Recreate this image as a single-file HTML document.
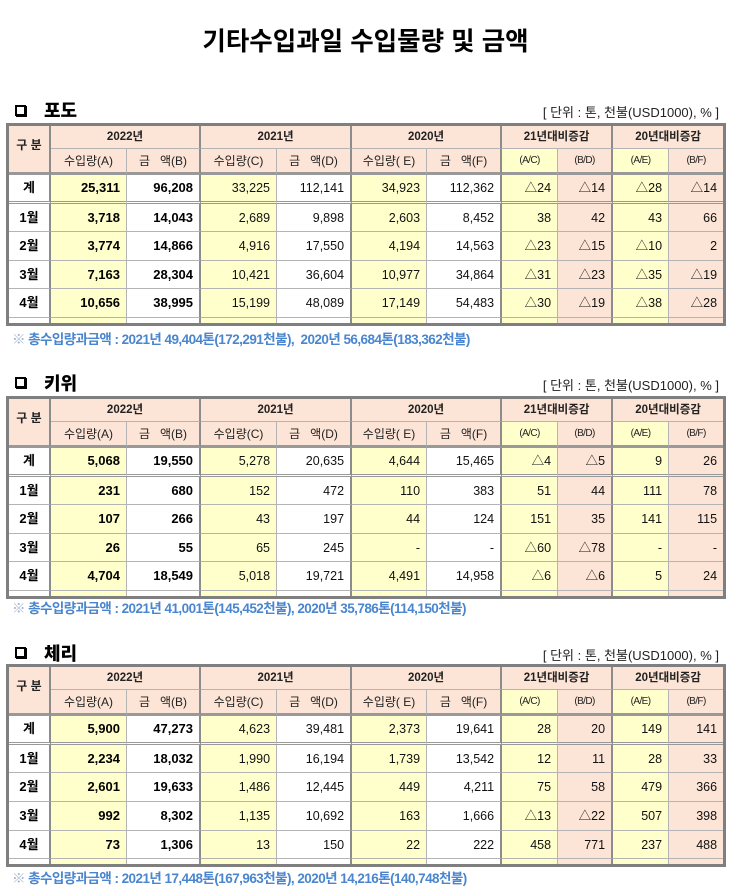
<!DOCTYPE html>
<html lang="ko">
<head>
<meta charset="utf-8">
<style>
*{box-sizing:border-box}
body{margin:0;width:739px;height:896px;position:relative;background:#fff;font-family:"Liberation Sans","Noto Sans CJK KR",sans-serif;overflow:hidden;color:#111}
.title{position:absolute;left:-4px;width:739px;top:25px;text-align:center;font-family:"Liberation Sans","Noto Sans CJK KR",sans-serif;font-size:25.5px;font-weight:bold;line-height:34px;color:#000}
.box{position:absolute;left:15px;width:11px;height:11px;border:2px solid #000;box-shadow:1px 1px 0 #000;background:#fff}
.sname{position:absolute;left:44px;font-family:"Noto Sans CJK KR",sans-serif;font-size:18px;font-weight:900;line-height:20px;color:#000}
.unit{position:absolute;right:20px;font-family:"Liberation Sans","Noto Sans CJK KR",sans-serif;font-size:13px;line-height:16px;color:#222}
.note{position:absolute;left:12px;font-family:"Liberation Sans","Noto Sans CJK KR",sans-serif;font-size:13.5px;font-weight:bold;letter-spacing:-0.55px;line-height:16px;color:#4a86cf;white-space:nowrap}
.note span{color:#9ab0c8;font-weight:normal}
table{position:absolute;left:6px;width:720px;table-layout:fixed;border-collapse:separate;border-spacing:0;border:3px solid #7f7f7f}
td{padding:0 6px 0 0;border-right:1px solid #b4b4b4;border-bottom:1px solid #b4b4b4;text-align:right;font-size:12.5px;white-space:nowrap;overflow:hidden;vertical-align:middle;line-height:14px}
td.g{border-right:2px solid #8c8c8c}
td.l{border-right:none}
.h td{background:#fce4d6;text-align:center;padding:0;font-weight:bold;font-size:11.5px;color:#222}
.h2 td{border-bottom:3px solid #999;font-weight:normal;font-size:12px}
.h2 td.s{font-size:10px;letter-spacing:-0.6px}
.h td.y{background:#ffffcc}
td.gb{border-bottom:3px solid #999;font-size:12px;padding-bottom:8px}
tr.h1{height:23px}
tr.h2{height:26px}
tr.k{height:29px}
tr.k td{border-bottom:3px double #999}
tr.e{height:5px}
tr.e td{border-bottom:none;font-size:0;line-height:0;padding:0}
.y{background:#ffffcc}
.p{background:#fce4d6}
.w{background:#fff}
td.b{font-weight:bold;font-size:13px;color:#000}
td.lab{text-align:center;padding:0;font-weight:bold;font-size:13px;background:#fff;color:#000}
</style>
</head>
<body>
<div class="title">기타수입과일 수입물량 및 금액</div>

<!-- 포도 -->
<div class="box" style="top:105px"></div>
<div class="sname" style="top:100px">포도</div>
<div class="unit" style="top:105px">[ 단위 : 톤, 천불(USD1000), % ]</div>
<table style="top:123px">
<colgroup><col style="width:42px"><col style="width:76px"><col style="width:74px"><col style="width:76px"><col style="width:75px"><col style="width:75px"><col style="width:75px"><col style="width:56px"><col style="width:55px"><col style="width:56px"><col style="width:54px"></colgroup>
<tr class="h h1"><td rowspan="2" class="g gb">구 분</td><td colspan="2" class="g">2022년</td><td colspan="2" class="g">2021년</td><td colspan="2" class="g">2020년</td><td colspan="2" class="g">21년대비증감</td><td colspan="2" class="l">20년대비증감</td></tr>
<tr class="h h2"><td>수입량(A)</td><td class="g">금&nbsp;&nbsp;&nbsp;액(B)</td><td>수입량(C)</td><td class="g">금&nbsp;&nbsp;&nbsp;액(D)</td><td>수입량( E)</td><td class="g">금&nbsp;&nbsp;&nbsp;액(F)</td><td class="s y">(A/C)</td><td class="s g">(B/D)</td><td class="s y">(A/E)</td><td class="s l">(B/F)</td></tr>
<tr class="k"><td class="lab g">계</td><td class="y b">25,311</td><td class="w b g">96,208</td><td class="y">33,225</td><td class="w g">112,141</td><td class="y">34,923</td><td class="w g">112,362</td><td class="y">△24</td><td class="p g">△14</td><td class="y">△28</td><td class="p l">△14</td></tr>
<tr style="height:28px"><td class="lab g">1월</td><td class="y b">3,718</td><td class="w b g">14,043</td><td class="y">2,689</td><td class="w g">9,898</td><td class="y">2,603</td><td class="w g">8,452</td><td class="y">38</td><td class="p g">42</td><td class="y">43</td><td class="p l">66</td></tr>
<tr style="height:29px"><td class="lab g">2월</td><td class="y b">3,774</td><td class="w b g">14,866</td><td class="y">4,916</td><td class="w g">17,550</td><td class="y">4,194</td><td class="w g">14,563</td><td class="y">△23</td><td class="p g">△15</td><td class="y">△10</td><td class="p l">2</td></tr>
<tr style="height:28px"><td class="lab g">3월</td><td class="y b">7,163</td><td class="w b g">28,304</td><td class="y">10,421</td><td class="w g">36,604</td><td class="y">10,977</td><td class="w g">34,864</td><td class="y">△31</td><td class="p g">△23</td><td class="y">△35</td><td class="p l">△19</td></tr>
<tr style="height:29px"><td class="lab g">4월</td><td class="y b">10,656</td><td class="w b g">38,995</td><td class="y">15,199</td><td class="w g">48,089</td><td class="y">17,149</td><td class="w g">54,483</td><td class="y">△30</td><td class="p g">△19</td><td class="y">△38</td><td class="p l">△28</td></tr>
<tr class="e"><td class="lab g"></td><td class="y"></td><td class="w g"></td><td class="y"></td><td class="w g"></td><td class="y"></td><td class="w g"></td><td class="y"></td><td class="p g"></td><td class="y"></td><td class="p l"></td></tr>
</table>
<div class="note" style="top:332px"><span>※</span> 총수입량과금액 : 2021년 49,404톤(172,291천불),&nbsp; 2020년 56,684톤(183,362천불)</div>

<!-- 키위 -->
<div class="box" style="top:377px"></div>
<div class="sname" style="top:373px">키위</div>
<div class="unit" style="top:378px">[ 단위 : 톤, 천불(USD1000), % ]</div>
<table style="top:396px">
<colgroup><col style="width:42px"><col style="width:76px"><col style="width:74px"><col style="width:76px"><col style="width:75px"><col style="width:75px"><col style="width:75px"><col style="width:56px"><col style="width:55px"><col style="width:56px"><col style="width:54px"></colgroup>
<tr class="h h1"><td rowspan="2" class="g gb">구 분</td><td colspan="2" class="g">2022년</td><td colspan="2" class="g">2021년</td><td colspan="2" class="g">2020년</td><td colspan="2" class="g">21년대비증감</td><td colspan="2" class="l">20년대비증감</td></tr>
<tr class="h h2"><td>수입량(A)</td><td class="g">금&nbsp;&nbsp;&nbsp;액(B)</td><td>수입량(C)</td><td class="g">금&nbsp;&nbsp;&nbsp;액(D)</td><td>수입량( E)</td><td class="g">금&nbsp;&nbsp;&nbsp;액(F)</td><td class="s y">(A/C)</td><td class="s g">(B/D)</td><td class="s y">(A/E)</td><td class="s l">(B/F)</td></tr>
<tr class="k"><td class="lab g">계</td><td class="y b">5,068</td><td class="w b g">19,550</td><td class="y">5,278</td><td class="w g">20,635</td><td class="y">4,644</td><td class="w g">15,465</td><td class="y">△4</td><td class="p g">△5</td><td class="y">9</td><td class="p l">26</td></tr>
<tr style="height:28px"><td class="lab g">1월</td><td class="y b">231</td><td class="w b g">680</td><td class="y">152</td><td class="w g">472</td><td class="y">110</td><td class="w g">383</td><td class="y">51</td><td class="p g">44</td><td class="y">111</td><td class="p l">78</td></tr>
<tr style="height:29px"><td class="lab g">2월</td><td class="y b">107</td><td class="w b g">266</td><td class="y">43</td><td class="w g">197</td><td class="y">44</td><td class="w g">124</td><td class="y">151</td><td class="p g">35</td><td class="y">141</td><td class="p l">115</td></tr>
<tr style="height:28px"><td class="lab g">3월</td><td class="y b">26</td><td class="w b g">55</td><td class="y">65</td><td class="w g">245</td><td class="y">-</td><td class="w g">-</td><td class="y">△60</td><td class="p g">△78</td><td class="y">-</td><td class="p l">-</td></tr>
<tr style="height:29px"><td class="lab g">4월</td><td class="y b">4,704</td><td class="w b g">18,549</td><td class="y">5,018</td><td class="w g">19,721</td><td class="y">4,491</td><td class="w g">14,958</td><td class="y">△6</td><td class="p g">△6</td><td class="y">5</td><td class="p l">24</td></tr>
<tr class="e"><td class="lab g"></td><td class="y"></td><td class="w g"></td><td class="y"></td><td class="w g"></td><td class="y"></td><td class="w g"></td><td class="y"></td><td class="p g"></td><td class="y"></td><td class="p l"></td></tr>
</table>
<div class="note" style="top:601px"><span>※</span> 총수입량과금액 : 2021년 41,001톤(145,452천불), 2020년 35,786톤(114,150천불)</div>

<!-- 체리 -->
<div class="box" style="top:647px"></div>
<div class="sname" style="top:643px">체리</div>
<div class="unit" style="top:648px">[ 단위 : 톤, 천불(USD1000), % ]</div>
<table style="top:664px">
<colgroup><col style="width:42px"><col style="width:76px"><col style="width:74px"><col style="width:76px"><col style="width:75px"><col style="width:75px"><col style="width:75px"><col style="width:56px"><col style="width:55px"><col style="width:56px"><col style="width:54px"></colgroup>
<tr class="h h1"><td rowspan="2" class="g gb">구 분</td><td colspan="2" class="g">2022년</td><td colspan="2" class="g">2021년</td><td colspan="2" class="g">2020년</td><td colspan="2" class="g">21년대비증감</td><td colspan="2" class="l">20년대비증감</td></tr>
<tr class="h h2"><td>수입량(A)</td><td class="g">금&nbsp;&nbsp;&nbsp;액(B)</td><td>수입량(C)</td><td class="g">금&nbsp;&nbsp;&nbsp;액(D)</td><td>수입량( E)</td><td class="g">금&nbsp;&nbsp;&nbsp;액(F)</td><td class="s y">(A/C)</td><td class="s g">(B/D)</td><td class="s y">(A/E)</td><td class="s l">(B/F)</td></tr>
<tr class="k"><td class="lab g">계</td><td class="y b">5,900</td><td class="w b g">47,273</td><td class="y">4,623</td><td class="w g">39,481</td><td class="y">2,373</td><td class="w g">19,641</td><td class="y">28</td><td class="p g">20</td><td class="y">149</td><td class="p l">141</td></tr>
<tr style="height:28px"><td class="lab g">1월</td><td class="y b">2,234</td><td class="w b g">18,032</td><td class="y">1,990</td><td class="w g">16,194</td><td class="y">1,739</td><td class="w g">13,542</td><td class="y">12</td><td class="p g">11</td><td class="y">28</td><td class="p l">33</td></tr>
<tr style="height:29px"><td class="lab g">2월</td><td class="y b">2,601</td><td class="w b g">19,633</td><td class="y">1,486</td><td class="w g">12,445</td><td class="y">449</td><td class="w g">4,211</td><td class="y">75</td><td class="p g">58</td><td class="y">479</td><td class="p l">366</td></tr>
<tr style="height:29px"><td class="lab g">3월</td><td class="y b">992</td><td class="w b g">8,302</td><td class="y">1,135</td><td class="w g">10,692</td><td class="y">163</td><td class="w g">1,666</td><td class="y">△13</td><td class="p g">△22</td><td class="y">507</td><td class="p l">398</td></tr>
<tr style="height:28px"><td class="lab g">4월</td><td class="y b">73</td><td class="w b g">1,306</td><td class="y">13</td><td class="w g">150</td><td class="y">22</td><td class="w g">222</td><td class="y">458</td><td class="p g">771</td><td class="y">237</td><td class="p l">488</td></tr>
<tr class="e"><td class="lab g"></td><td class="y"></td><td class="w g"></td><td class="y"></td><td class="w g"></td><td class="y"></td><td class="w g"></td><td class="y"></td><td class="p g"></td><td class="y"></td><td class="p l"></td></tr>
</table>
<div class="note" style="top:871px"><span>※</span> 총수입량과금액 : 2021년 17,448톤(167,963천불), 2020년 14,216톤(140,748천불)</div>
</body>
</html>
